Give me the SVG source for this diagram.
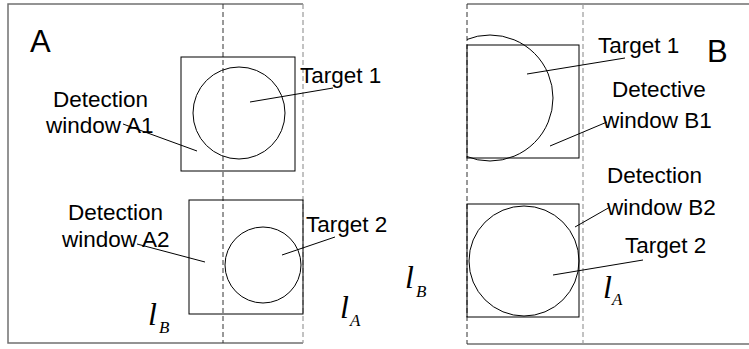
<svg xmlns="http://www.w3.org/2000/svg" width="749" height="349" viewBox="0 0 749 349">
<style>
.frame{stroke:#707070;stroke-width:1.5;fill:none}
.dashg{stroke:#9a9a9a;stroke-width:1.2;stroke-dasharray:5 3;fill:none}
.dashk{stroke:#333;stroke-width:1;stroke-dasharray:5 3;fill:none}
.win{stroke:#000;stroke-width:1;fill:none}
.lead{stroke:#000;stroke-width:1;fill:none}
.t{font-family:"Liberation Sans",Arial,sans-serif;font-size:22.5px;fill:#000}
.big{font-family:"Liberation Sans",Arial,sans-serif;font-size:31px;fill:#000}
.l{font-family:"Liberation Serif","Times New Roman",serif;font-style:italic;font-size:32px;fill:#000}
.sub{font-family:"Liberation Serif","Times New Roman",serif;font-style:italic;font-size:17px;fill:#000}
</style>
<defs>
<clipPath id="clipB1"><rect x="467" y="0" width="282" height="349"/></clipPath>
</defs>
<g id="panelA">
<path class="frame" d="M303,4 H8 V343 H303"/>
<line class="dashg" x1="303" y1="4" x2="303" y2="343"/>
<line class="dashk" x1="223" y1="4" x2="223" y2="343"/>
<text class="big" x="30" y="52">A</text>
</g>
<g id="panelB">
<path class="frame" d="M749,4 H467 M467,344 H749"/>
<line class="dashk" x1="467" y1="4" x2="467" y2="344"/>
<line class="dashg" x1="583" y1="4" x2="583" y2="344"/>
<text class="big" x="707" y="62">B</text>
</g>
<g id="windowA1">
<rect class="win" x="181" y="57" width="114" height="114"/>
<text class="t" x="53" y="107">Detection</text>
<text class="t" x="46" y="133">window A1</text>
</g>
<g id="target1A">
<circle class="win" cx="239" cy="113" r="46"/>
<text class="t" x="300" y="83">Target 1</text>
</g>
<g id="windowA2">
<rect class="win" x="189" y="200" width="114" height="114"/>
<text class="t" x="68" y="220">Detection</text>
<text class="t" x="62" y="247">window A2</text>
</g>
<g id="target2A">
<circle class="win" cx="263" cy="265" r="38"/>
<text class="t" x="306" y="232">Target 2</text>
</g>
<g id="windowB1">
<rect class="win" x="467" y="45" width="112" height="113"/>
<text class="t" x="612" y="97">Detective</text>
<text class="t" x="603" y="128">window B1</text>
</g>
<g id="target1B">
<circle class="win" cx="490" cy="98" r="63" clip-path="url(#clipB1)"/>
<text class="t" x="598" y="53">Target 1</text>
</g>
<g id="windowB2">
<rect class="win" x="467" y="204" width="112" height="113"/>
<text class="t" x="607" y="183">Detection</text>
<text class="t" x="607" y="215">window B2</text>
</g>
<g id="target2B">
<circle class="win" cx="524" cy="261" r="55"/>
<text class="t" x="625" y="253">Target 2</text>
</g>
<g id="labels">
<text class="l" x="148" y="325">l</text><text class="sub" x="159" y="333">B</text>
<text class="l" x="340" y="318">l</text><text class="sub" x="350" y="326">A</text>
<text class="l" x="405" y="288">l</text><text class="sub" x="416" y="297">B</text>
<text class="l" x="603" y="298">l</text><text class="sub" x="612" y="305">A</text>
</g>
<g id="connectors">
<line class="lead" x1="333" y1="88" x2="250" y2="102"/>
<line class="lead" x1="123" y1="124" x2="197" y2="151"/>
<line class="lead" x1="137" y1="244" x2="205" y2="262"/>
<line class="lead" x1="335" y1="237" x2="282" y2="255"/>
<line class="lead" x1="625" y1="58" x2="527" y2="74"/>
<line class="lead" x1="607" y1="122" x2="550" y2="146"/>
<line class="lead" x1="610" y1="207" x2="575" y2="227"/>
<line class="lead" x1="643" y1="260" x2="553" y2="275"/>
</g>
</svg>
